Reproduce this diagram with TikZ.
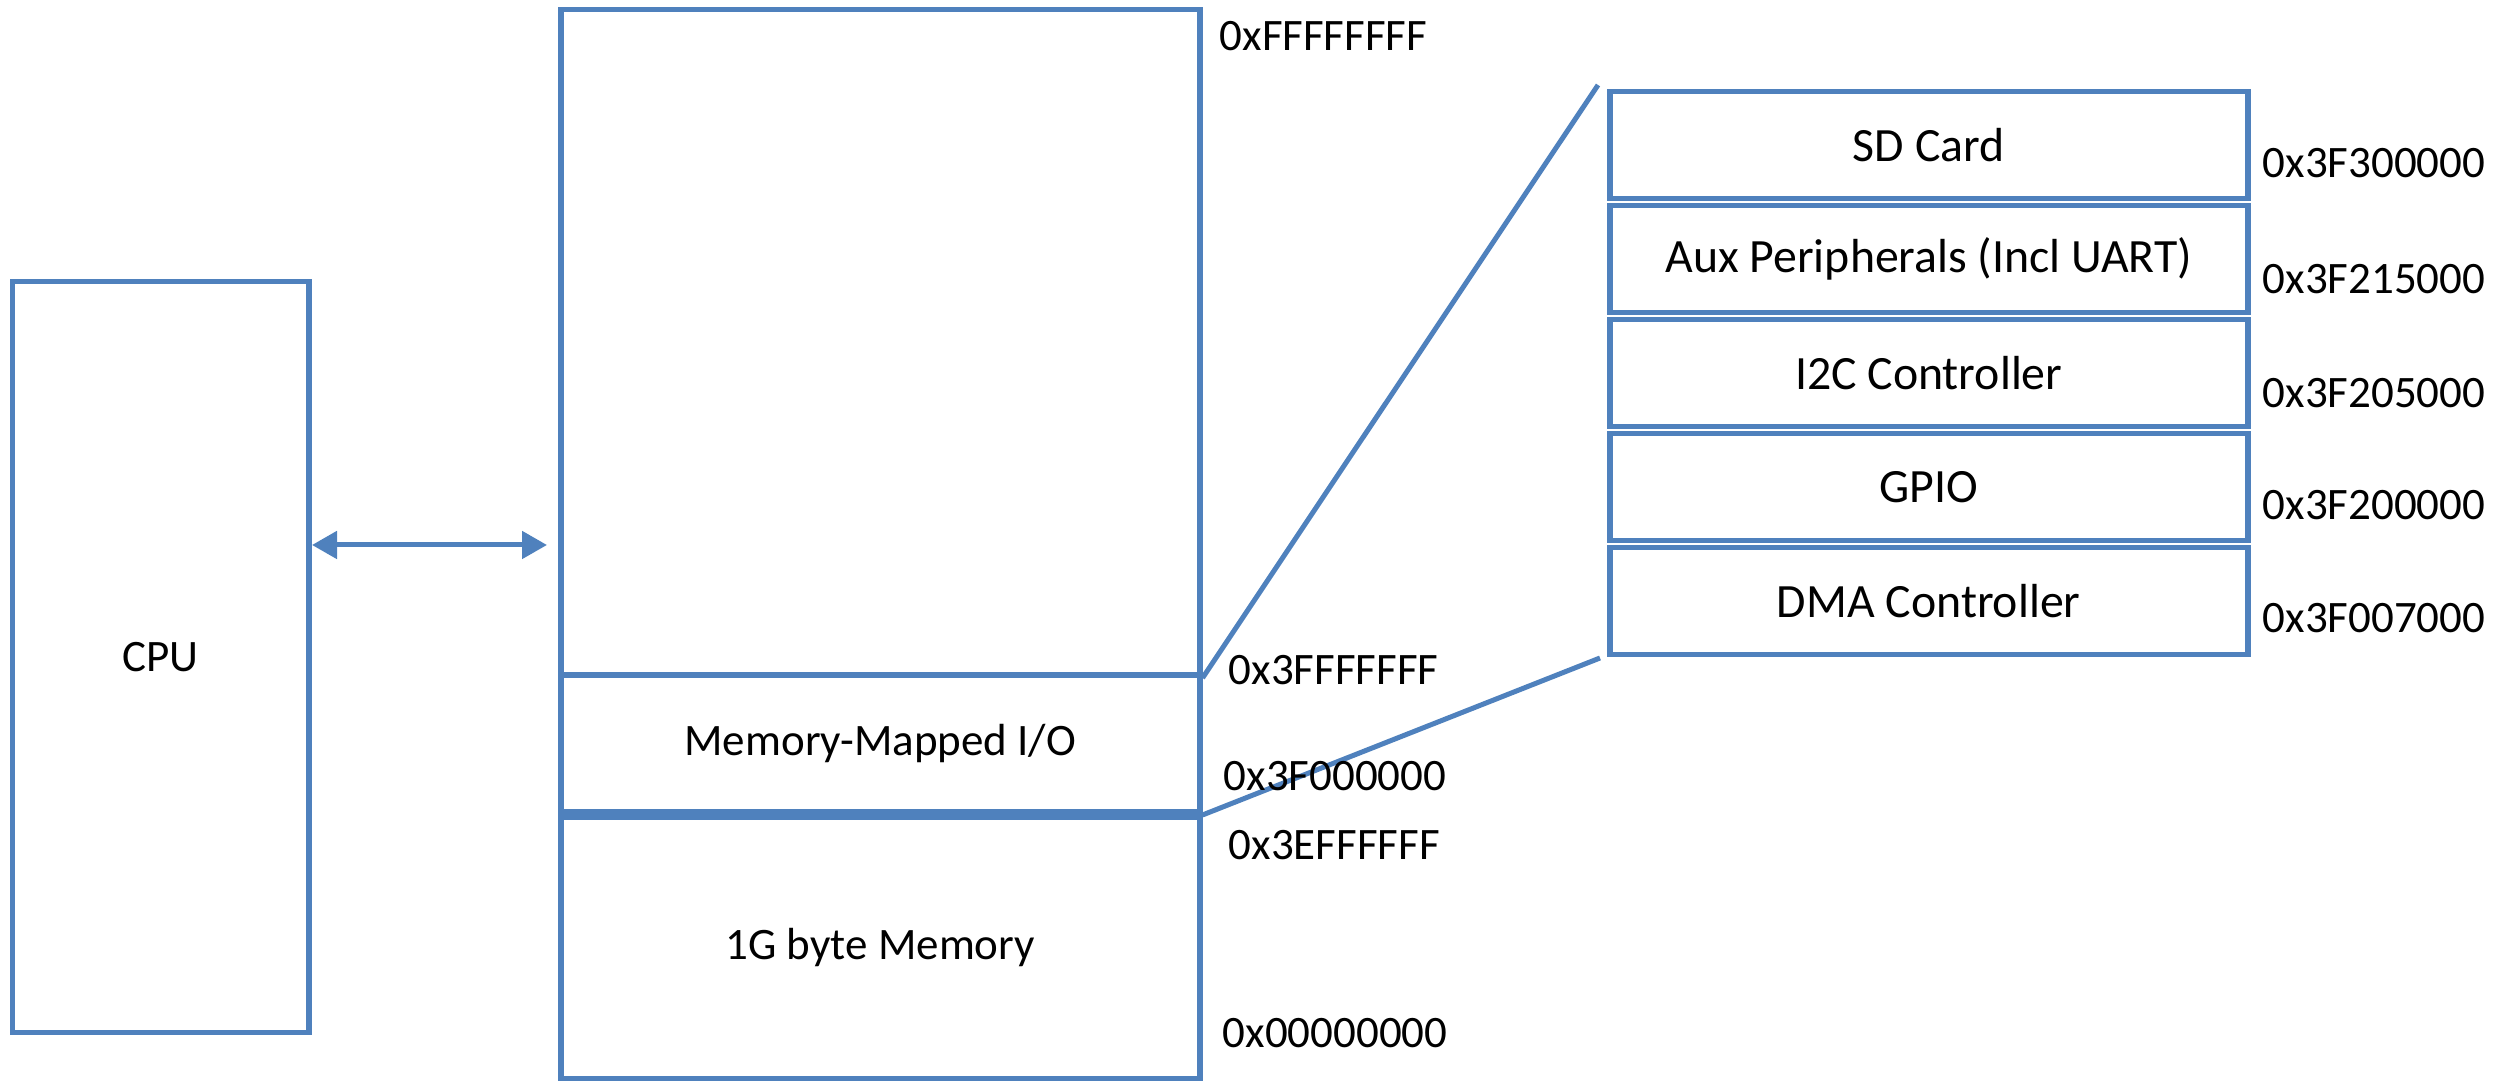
\documentclass[tikz,border=0pt]{standalone}
\usepackage{fontspec}
\setmainfont{Carlito}
\usetikzlibrary{arrows.meta}
\definecolor{ofblue}{HTML}{4F81BD}
\begin{document}
\begin{tikzpicture}[
  box/.style={draw=ofblue, line width=0.055cm, inner sep=0pt, anchor=north west, fill=white},
  pbox/.style={box, minimum width=6.38cm, minimum height=1.07cm, font=\fontsize{13.6}{16}\selectfont},
  addr/.style={anchor=west, inner sep=0pt, text=black},
  link/.style={draw=ofblue, line width=0.05cm},
  arr/.style={draw=ofblue, line width=0.05cm, {Triangle[length=0.25cm,width=0.27cm]}-{Triangle[length=0.25cm,width=0.27cm]}}
]
\fontsize{12.8}{15}\selectfont
\useasboundingbox (0,0) rectangle (24.97,-10.81);
% CPU
\node[box, minimum width=2.96cm, minimum height=7.51cm] (cpu) at (0.10,-2.79) {CPU};
% memory column
\node[box, minimum width=6.39cm, minimum height=6.655cm] (upper) at (5.58,-0.07) {};
\node[box, minimum width=6.39cm, minimum height=1.37cm] (mmio) at (5.58,-6.725) {Memory-Mapped I/O};
\node[box, minimum width=6.39cm, minimum height=2.615cm] (mem) at (5.58,-8.145) {1G byte Memory};
% peripherals
\node[pbox] (sd)   at (16.07,-0.89) {SD Card};
\node[pbox] (aux)  at (16.07,-2.03) {Aux Peripherals (Incl UART)};
\node[pbox] (i2c)  at (16.07,-3.17) {I2C Controller};
\node[pbox] (gpio) at (16.07,-4.31) {GPIO};
\node[pbox] (dma)  at (16.07,-5.45) {DMA Controller};
% zoom lines
\coordinate (zt) at (15.98,-0.85);
\coordinate (zb) at (16.00,-6.58);
\draw[link] (upper.south east) -- (zt);
\draw[link] (mmio.south east) -- (zb);
% bus arrow
\coordinate (aL) at (3.12,-5.45);
\coordinate (aR) at (5.47,-5.45);
\draw[arr] (aL) -- (aR);
% addresses
\node[addr] (a1) at (12.19,-0.36) {0xFFFFFFFF};
\node[addr] (a2) at (12.28,-6.70) {0x3FFFFFFF};
\node[addr] (a3) at (12.23,-7.76) {0x3F000000};
\node[addr] (a4) at (12.28,-8.45) {0x3EFFFFFF};
\node[addr] (a5) at (12.22,-10.33) {0x00000000};
\node[addr] (p1) at (22.62,-1.63) {0x3F300000};
\node[addr] (p2) at (22.62,-2.79) {0x3F215000};
\node[addr] (p3) at (22.62,-3.93) {0x3F205000};
\node[addr] (p4) at (22.62,-5.05) {0x3F200000};
\node[addr] (p5) at (22.62,-6.18) {0x3F007000};
\end{tikzpicture}
\end{document}
